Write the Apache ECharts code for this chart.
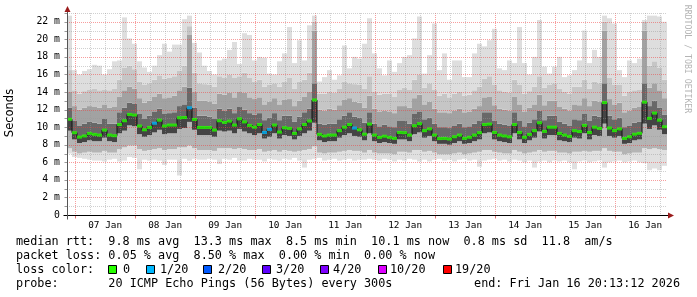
<!DOCTYPE html>
<html><head><meta charset="utf-8">
<script src="https://cdn.jsdelivr.net/npm/echarts@6/dist/echarts.min.js"></script>
<style>html,body{margin:0;padding:0;background:#fff}#c{width:697px;height:297px}</style>
</head><body><div id="c"></div>
<script>
// ---- axis / labels ----
const stepHours = 2;            // one RRD row = 2 h
const xMax = 240;               // 10 days shown, in hours from graph start
const yMax = 23;
const firstMidnightHour = 3.25; // graph start -> 07 Jan 00:00
const dayLabels = ['07 Jan','08 Jan','09 Jan','10 Jan','11 Jan','12 Jan','13 Jan','14 Jan','15 Jan','16 Jan'];
const yTickValues = [0,2,4,6,8,10,12,14,16,18,20,22];
const yTickLabels = ['0','2 m','4 m','6 m','8 m','10 m','12 m','14 m','16 m','18 m','20 m','22 m'];
const lossLevels = ['0','1/20','2/20','3/20','4/20','10/20','19/20'];
const lossColors = ['#26ff00','#00b8ff','#0059ff','#5e00ff','#7e00ff','#dd00ff','#ff0000'];

// ---- data (ms), one value per 2 h column ----
const med = [10.9,9.37,8.87,9.0,9.29,9.18,9.1,9.67,9.1,9.03,
10.3,10.73,11.45,11.38,10.13,9.7,9.97,10.45,10.8,10.13,
10.24,10.24,11.07,11.1,12.21,10.88,9.97,9.97,9.97,9.67,
10.73,10.54,10.69,10.24,10.95,10.6,10.2,10.0,10.3,9.4,
9.75,10.24,9.44,9.94,9.86,9.29,9.8,10.3,10.7,13.1,
9.18,9.0,9.1,9.1,9.6,10.0,10.3,9.9,9.7,9.2,
10.35,9.1,8.84,8.97,8.84,8.72,9.4,9.37,9.1,10.16,
10.4,9.6,9.8,9.1,8.7,8.72,8.65,8.91,9.1,8.72,
8.85,9.1,9.37,10.3,10.35,9.4,9.1,9.0,8.9,10.3,
9.4,8.85,9.18,9.6,10.5,9.52,10.0,10.0,9.29,9.1,
8.95,9.6,9.5,10.2,9.4,10.0,9.86,12.8,9.9,9.6,
9.8,8.72,8.9,9.2,9.3,12.85,11.0,11.6,10.8,10.05];
const lost = [0,0,0,0,0,0,0,0,0,0, 0,0,0,0,0,0,0,1,0,0, 0,0,0,0,1,0,0,0,0,0,
0,0,0,0,0,0,0,0,0,1, 1,0,0,0,0,0,0,0,0,0, 0,0,0,0,0,0,0,1,0,0,
0,0,0,0,0,0,0,0,0,0, 0,0,0,0,0,0,0,0,0,0, 0,0,0,0,0,0,0,0,0,0,
0,0,0,0,0,0,0,0,0,0, 0,0,0,0,0,0,0,0,0,0, 0,0,0,0,0,0,0,0,0,0];
const mx = [22.7,16.5,16.0,16.4,16.6,17.1,17.0,16.0,16.6,17.5,
17.6,22.5,20.1,19.5,17.5,16.8,16.3,17.0,18.2,19.5,
18.6,19.4,19.4,22.3,22.7,19.6,18.5,17.0,16.4,16.0,
17.6,17.8,18.8,19.7,17.2,20.7,20.5,17.6,18.0,17.9,
16.1,16.0,17.5,18.4,21.4,17.3,19.9,17.6,21.6,22.7,
15.2,15.7,16.5,15.4,15.9,19.3,16.7,18.0,17.8,19.5,
22.4,18.4,16.7,15.9,17.6,16.3,17.3,18.0,18.2,20.1,
22.6,16.1,18.2,21.8,16.5,18.4,15.4,17.6,17.6,15.7,
15.7,18.4,19.5,19.2,19.9,21.2,16.7,16.5,17.6,17.3,
21.4,17.3,16.0,18.0,22.2,16.9,16.1,16.9,18.0,15.7,
15.9,16.5,17.6,21.0,17.3,18.8,18.0,22.7,22.4,21.8,
16.5,15.7,17.6,17.3,17.8,22.2,22.7,22.7,22.6,22.0];
const hi3 = [16.5,14.2,13.8,14.1,14.3,14.4,14.2,14.3,14.2,14.4,
15.4,16.8,17.0,16.6,15.2,14.8,15.0,15.4,15.9,15.5,
15.6,15.8,16.4,17.0,21.5,16.2,15.0,14.9,14.8,14.6,
15.8,15.6,16.0,15.6,15.8,16.2,15.6,15.2,15.4,14.6,
14.8,15.0,14.6,15.2,15.6,14.4,15.2,15.4,16.2,22.0,
13.8,13.8,14.0,13.9,14.4,15.2,15.0,14.9,14.8,14.4,
15.8,14.0,13.7,13.8,13.8,13.5,14.3,14.5,14.3,15.4,
16.0,14.5,15.0,14.3,13.6,13.8,13.4,13.8,14.0,13.6,
13.7,14.2,14.6,15.5,15.8,14.8,14.2,14.0,13.9,15.4,
14.8,13.8,14.1,14.6,15.8,14.5,14.8,15.0,14.4,14.0,
13.8,14.6,14.6,15.4,14.4,15.2,15.0,22.0,15.6,14.8,
14.8,13.6,14.0,14.2,14.3,22.0,17.0,17.5,16.8,15.4];
const hi2 = [14.0,12.4,12.0,12.2,12.4,12.3,12.2,12.6,12.2,12.3,
13.5,14.2,14.6,14.4,13.3,12.8,13.0,13.5,13.8,13.3,
13.4,13.6,14.2,14.6,20.5,14.0,13.0,13.0,12.9,12.7,
13.8,13.7,13.9,13.4,14.0,13.9,13.4,13.2,13.4,12.6,
12.9,13.3,12.6,13.1,13.2,12.4,13.0,13.5,14.0,21.0,
12.0,11.9,12.1,12.0,12.5,13.1,13.3,12.9,12.8,12.2,
13.6,12.1,11.8,11.9,11.8,11.6,12.4,12.4,12.2,13.3,
13.7,12.6,12.9,12.1,11.7,11.7,11.6,11.9,12.1,11.7,
11.8,12.1,12.4,13.4,13.5,12.5,12.1,12.0,11.9,13.5,
12.6,11.8,12.2,12.6,13.7,12.5,13.0,13.0,12.3,12.1,
11.9,12.6,12.5,13.3,12.4,13.0,12.9,21.0,13.2,12.6,
12.8,11.7,11.9,12.2,12.3,21.0,14.5,15.0,14.2,13.3];
const hi1 = [12.2,10.7,10.2,10.4,10.6,10.5,10.4,11.0,10.4,10.4,
11.7,12.2,12.8,12.7,11.5,11.0,11.3,11.8,12.1,11.5,
11.6,11.7,12.4,12.6,14.5,12.2,11.3,11.3,11.2,11.0,
12.1,11.9,12.1,11.6,12.3,12.0,11.6,11.4,11.6,10.8,
11.1,11.6,10.8,11.3,11.3,10.6,11.2,11.7,12.1,15.0,
10.4,10.3,10.4,10.4,10.9,11.3,11.7,11.2,11.1,10.5,
11.7,10.4,10.1,10.3,10.1,10.0,10.7,10.7,10.4,11.5,
11.8,10.9,11.1,10.4,10.0,10.0,9.9,10.2,10.4,10.0,
10.1,10.4,10.7,11.7,11.7,10.7,10.4,10.3,10.2,11.7,
10.7,10.1,10.5,10.9,11.9,10.8,11.3,11.3,10.6,10.4,
10.2,10.9,10.8,11.5,10.7,11.3,11.2,15.0,11.3,10.9,
11.1,10.0,10.2,10.5,10.6,15.0,12.4,13.0,12.2,11.4];
const lo1 = [9.6,8.6,8.2,8.3,8.5,8.4,8.4,8.8,8.4,8.3,
9.3,9.6,10.2,10.1,9.2,8.9,9.1,9.4,9.7,9.2,
9.3,9.3,9.8,9.9,10.6,9.7,9.1,9.1,9.1,8.9,
9.6,9.5,9.6,9.3,9.8,9.5,9.3,9.1,9.3,8.7,
8.9,9.3,8.7,9.1,9.0,8.6,9.0,9.3,9.6,10.5,
8.5,8.3,8.4,8.4,8.8,9.1,9.3,9.0,8.9,8.5,
9.3,8.4,8.2,8.3,8.2,8.1,8.6,8.6,8.4,9.2,
9.4,8.8,9.0,8.4,8.1,8.1,8.0,8.2,8.4,8.1,
8.2,8.4,8.6,9.3,9.4,8.6,8.4,8.3,8.2,9.3,
8.6,8.2,8.5,8.8,9.5,8.7,9.1,9.1,8.5,8.4,
8.3,8.8,8.7,9.3,8.6,9.1,9.0,10.4,9.0,8.8,
9.0,8.1,8.2,8.5,8.6,10.4,9.8,10.2,9.7,9.2];
const lo2 = [7.6,7.2,7.0,7.1,7.2,7.1,7.1,7.3,7.1,7.1,
7.5,7.7,7.9,7.9,7.5,7.3,7.4,7.5,7.6,7.4,
7.5,7.5,7.7,7.7,7.9,7.6,7.4,7.4,7.4,7.3,
7.6,7.6,7.6,7.5,7.6,7.5,7.4,7.4,7.5,7.2,
7.3,7.4,7.2,7.4,7.3,7.2,7.3,7.4,7.5,7.8,
7.1,7.0,7.1,7.1,7.2,7.3,7.4,7.3,7.3,7.1,
7.4,7.1,7.0,7.0,7.0,6.9,7.2,7.2,7.1,7.4,
7.4,7.2,7.3,7.1,6.9,6.9,6.9,7.0,7.1,6.9,
7.0,7.1,7.2,7.4,7.4,7.2,7.1,7.0,7.0,7.4,
7.2,7.0,7.1,7.2,7.4,7.2,7.3,7.3,7.1,7.1,
7.0,7.2,7.2,7.3,7.2,7.3,7.3,7.6,7.3,7.2,
7.2,6.9,7.0,7.1,7.1,7.6,7.5,7.6,7.5,7.4];
const mn = [7.0,6.6,6.5,6.4,6.3,6.2,6.2,6.1,6.3,6.4,
6.1,6.2,6.6,6.5,5.2,6.3,6.2,6.3,6.2,5.7,
6.3,6.3,4.5,6.4,6.2,6.4,6.3,6.3,6.4,6.3,
5.8,6.4,6.3,6.5,6.2,6.2,6.4,6.3,6.3,6.1,
6.4,6.3,6.2,6.4,6.3,6.5,6.2,5.4,6.3,6.4,
6.5,6.2,6.3,6.4,6.2,6.3,6.4,6.2,6.3,6.3,
6.4,6.3,6.2,6.4,6.3,6.1,6.3,6.2,6.4,6.3,
6.1,6.3,6.1,6.3,6.4,6.2,6.3,6.1,6.3,6.4,
6.2,6.3,5.5,6.2,6.3,6.4,6.2,6.3,6.1,6.3,
6.2,6.0,6.2,5.4,6.1,6.2,6.0,6.2,6.1,6.2,
6.0,5.2,6.1,6.2,6.0,6.1,6.2,5.4,6.0,6.1,
6.2,6.0,6.1,6.2,6.0,5.9,5.1,5.3,5.1,5.6];

// ---- styling ----
// bands: mn-lo2, lo2-lo1, lo1-med, med-hi1, hi1-hi2, hi2-hi3, hi3-mx
const bandColors = ['#e0e0e0','#b4b4b4','#444444','#686868','#a2a2a2','#c6c6c6','#dedede'];
const majorGrid = 'rgba(240,60,60,0.5)';
const minorGrid = 'rgba(150,150,150,0.45)';
const mono = '"DejaVu Sans Mono", monospace';

function lossColor(n){
  if (n <= 0) return lossColors[0];
  if (n === 1) return lossColors[1];
  if (n === 2) return lossColors[2];
  if (n === 3) return lossColors[3];
  if (n < 10) return lossColors[4];
  if (n < 19) return lossColors[5];
  return lossColors[6];
}

const smokeData = med.map((_, i) => [i*stepHours, (i+1)*stepHours, mn[i], lo2[i], lo1[i], med[i], hi1[i], hi2[i], hi3[i], mx[i]]);
const medPts = med.map((v, i) => ({value: [i*stepHours + stepHours/2, v], itemStyle: {color: lossColor(lost[i])}}));
const medLine = med.map((v, i) => [i*stepHours + stepHours/2, v]);
const noonHours = dayLabels.map((_, k) => firstMidnightHour + 12 + 24*k);

function renderSmoke(params, api){
  const x0 = api.value(0), x1 = api.value(1);
  const b = [2,3,4,5,6,7,8,9].map(d => api.value(d));
  const ch = [];
  for (let k = 0; k < 7; k++){
    const p0 = api.coord([x0, b[k+1]]);
    const p1 = api.coord([x1, b[k]]);
    ch.push({type:'rect', shape:{x:p0[0], y:p0[1], width:p1[0]-p0[0], height:p1[1]-p0[1]},
      style:{fill:bandColors[k]}});
  }
  return {type:'group', children: ch};
}

function renderGrid(params, api){
  const cs = params.coordSys;
  const ch = [];
  for (let h = firstMidnightHour; h <= xMax; h += 6){
    const px = Math.round(api.coord([h, 0])[0]) + 0.5;
    const major = Math.abs((h - firstMidnightHour) % 24) < 1e-6;
    ch.push({type:'line', shape:{x1:px, y1:cs.y, x2:px, y2:cs.y+cs.height},
      style:{stroke: major ? majorGrid : minorGrid, lineWidth:1, lineDash:[1,1]}});
  }
  for (let v = 1; v <= yMax; v++){
    const py = Math.round(api.coord([0, v])[1]) + 0.5;
    ch.push({type:'line', shape:{x1:cs.x, y1:py, x2:cs.x+cs.width, y2:py},
      style:{stroke: v % 2 === 0 ? majorGrid : minorGrid, lineWidth:1, lineDash:[1,1]}});
  }
  return {type:'group', children: ch};
}

function renderAxes(params, api){
  const o = api.coord([0, 0]);
  const xe = api.coord([xMax, 0])[0];
  const yt = api.coord([0, yMax])[1];
  const ox = Math.round(o[0]) + 0.5, oy = Math.round(o[1]) + 0.5;
  const ch = [];
  for (let v = 0; v <= yMax; v++){
    const py = Math.round(api.coord([0, v])[1]) + 0.5;
    ch.push({type:'line', shape:{x1:ox-3, y1:py, x2:ox, y2:py}, style:{stroke:'#999', lineWidth:1}});
  }
  for (let h = firstMidnightHour; h <= xMax; h += 24){
    const px = Math.round(api.coord([h, 0])[0]) + 0.5;
    ch.push({type:'line', shape:{x1:px, y1:oy, x2:px, y2:oy+3}, style:{stroke:'rgba(220,60,60,0.7)', lineWidth:1}});
  }
  ch.push({type:'line', shape:{x1:ox-4, y1:oy, x2:xe+2, y2:oy}, style:{stroke:'#000', lineWidth:1}});
  ch.push({type:'line', shape:{x1:ox, y1:oy+4, x2:ox, y2:yt-3}, style:{stroke:'#555', lineWidth:1}});
  ch.push({type:'polygon', shape:{points:[[xe+1, oy-3],[xe+7, oy],[xe+1, oy+3]]}, style:{fill:'#9b1c1c'}});
  ch.push({type:'polygon', shape:{points:[[ox-3, yt-1],[ox, yt-7],[ox+3, yt-1]]}, style:{fill:'#9b1c1c'}});
  return {type:'group', children: ch};
}

const chart = echarts.init(document.getElementById('c'), null, {renderer:'canvas'});

const legendRows = [
  'median rtt:  9.8 ms avg  13.3 ms max  8.5 ms min  10.1 ms now  0.8 ms sd  11.8  am/s',
  'packet loss: 0.05 % avg  8.50 % max  0.00 % min  0.00 % now',
  'loss color:',
  'probe:       20 ICMP Echo Pings (56 Bytes) every 300s'
];
const rowY = [241.5, 255.5, 269.5, 283.5];
const lossBoxX = [108, 146, 203, 262, 320, 378, 443];
const lossTextX = [123, 160, 218, 276, 333, 390, 455];
const legendFont = '11.8px ' + mono;

const graphics = [];
legendRows.forEach((t, r) => graphics.push({type:'text', x:16, y:rowY[r],
  style:{text:t, font:legendFont, fill:'#000', verticalAlign:'middle'}}));
lossLevels.forEach((t, k) => {
  graphics.push({type:'rect', shape:{x:lossBoxX[k]+0.5, y:265.5, width:8, height:8},
    style:{fill:lossColors[k], stroke:'#000', lineWidth:1}});
  graphics.push({type:'text', x:lossTextX[k], y:rowY[2],
    style:{text:t, font:legendFont, fill:'#000', verticalAlign:'middle'}});
});
graphics.push({type:'text', x:680, y:rowY[3],
  style:{text:'end: Fri Jan 16 20:13:12 2026', font:legendFont, fill:'#000', align:'right', verticalAlign:'middle'}});
graphics.push({type:'text', x:10, y:113, rotation:Math.PI/2,
  style:{text:'Seconds', font:'11.5px "DejaVu Sans", sans-serif', fill:'#000', align:'center', verticalAlign:'middle'}});
graphics.push({type:'text', x:687, y:59, rotation:-Math.PI/2,
  style:{text:'RRDTOOL / TOBI OETIKER', font:'8.2px ' + mono, fill:'#b4b4b4', align:'center', verticalAlign:'middle'}});

chart.setOption({
  animation:false,
  backgroundColor:'#fff',
  grid:{left:67, right:30, top:13, bottom:82},
  xAxis:{type:'value', min:0, max:xMax,
    axisLine:{show:false}, axisTick:{show:false}, splitLine:{show:false},
    axisLabel:{customValues:noonHours, margin:6, color:'#000', fontFamily:mono, fontSize:9.4,
      formatter:v => dayLabels[Math.round((v - firstMidnightHour - 12)/24)]}},
  yAxis:{type:'value', min:0, max:yMax,
    axisLine:{show:false}, axisTick:{show:false}, splitLine:{show:false},
    axisLabel:{customValues:yTickValues, margin:7, color:'#000', fontFamily:mono, fontSize:9.8,
      formatter:v => yTickLabels[yTickValues.indexOf(v)]}},
  graphic: graphics,
  series:[
    {type:'custom', name:'smoke', renderItem:renderSmoke, data:smokeData,
     encode:{x:[0,1], y:[2,3,4,5,6,7,8,9]}, z:1, silent:true},
    {type:'custom', name:'grid', renderItem:renderGrid, data:[[0,0]], encode:{x:0, y:1}, z:2, silent:true},
    {type:'line', name:'median step', data:medLine, step:'middle', showSymbol:false,
     lineStyle:{color:'#111', width:1}, z:3, silent:true},
    {type:'scatter', name:'median', data:medPts, symbol:'rect', symbolSize:[5,3], z:4, silent:true},
    {type:'custom', name:'axes', renderItem:renderAxes, data:[[0,0]], encode:{x:0, y:1}, z:5, clip:false, silent:true}
  ]
});
</script>
</body></html>
